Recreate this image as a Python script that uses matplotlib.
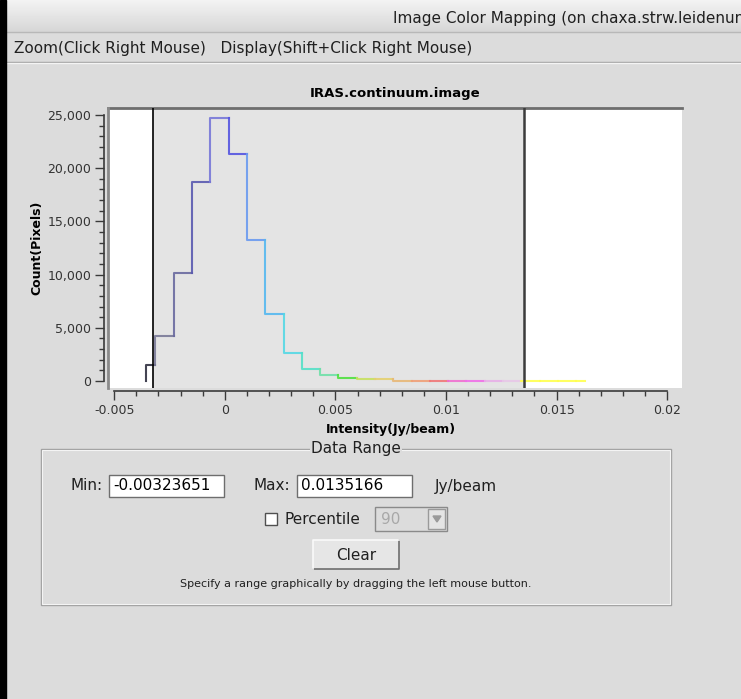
import numpy as np
import matplotlib.pyplot as plt
from matplotlib.patches import Rectangle, Polygon
from matplotlib.ticker import MultipleLocator, FuncFormatter

# histogram of the image: bin centres (Jy/beam) and pixel counts
bin_centers = [-0.003546, -0.002722, -0.001893, -0.001064, -0.000240, 0.000589,
               0.001413, 0.002242, 0.003071, 0.003895, 0.004724, 0.005548,
               0.006377, 0.007206, 0.008030, 0.008859, 0.009683, 0.010512,
               0.011341, 0.012165, 0.012994, 0.013818, 0.014647, 0.015476, 0.016304]
counts = [1530, 4230, 10150, 18700, 24750, 21300, 13220, 6330, 2630, 1100, 535, 254,
          160, 160, 40, 35, 30, 28, 26, 25, 24, 22, 20, 20, 18]
bin_colors = ['#303040', '#7a7a98', '#6a6aa0', '#5a5ab0', '#7878d8', '#5555e0',
              '#6a9af0', '#55b8f0', '#55d8e4', '#55e0c8', '#70e0a8', '#50e040',
              '#c8e060', '#e4d070', '#e8b878', '#f0a078', '#f07878', '#f070d0',
              '#f070e8', '#e8b0e8', '#e8c8e8', '#ffff50', '#ffff50', '#ffff50', '#ffff50']

data_min = -0.00323651
data_max = 0.0135166
x_ticks = [-0.005, 0, 0.005, 0.01, 0.015, 0.02]
x_tick_labels = ['-0.005', '0', '0.005', '0.01', '0.015', '0.02']
y_ticks = [0, 5000, 10000, 15000, 20000, 25000]

W, H = 741, 699
BG = '#dcdcdc'
UI = 11
fig = plt.figure(figsize=(W / 100, H / 100), dpi=100, facecolor=BG)

# window decoration drawn in pixel coordinates
bg = fig.add_axes([0, 0, 1, 1], zorder=0)
bg.set_xlim(0, W)
bg.set_ylim(H, 0)
bg.axis('off')

grad = np.linspace(0.95, 0.84, 32).reshape(-1, 1)
bg.imshow(grad, cmap='gray', vmin=0, vmax=1, extent=(0, W, 32, 0), aspect='auto')
bg.plot([0, W], [32, 32], color='#b8b8b8', lw=1)
bg.text(393, 18, 'Image Color Mapping (on chaxa.strw.leidenun', fontsize=UI,
        color='#202020', va='center', ha='left')
bg.text(14, 48, 'Zoom(Click Right Mouse)   Display(Shift+Click Right Mouse)',
        fontsize=UI, color='#202020', va='center', ha='left')
bg.plot([0, W], [61.5, 61.5], color='#a0a0a0', lw=1)
bg.plot([0, W], [62.5, 62.5], color='#f4f4f4', lw=1)
bg.add_patch(Rectangle((0, 0), 6, H, color='black', zorder=10))

# Data Range group box
bg.add_patch(Rectangle((41, 449), 630, 156, fill=False, edgecolor='#a0a0a0', lw=1))
bg.add_patch(Rectangle((42, 450), 628, 154, fill=False, edgecolor='#f4f4f4', lw=0.8))
bg.text(356, 448, 'Data Range', fontsize=UI, color='#202020', ha='center', va='center',
        bbox=dict(facecolor=BG, edgecolor='none', pad=1))


def entry(x0, x1, y0, y1, txt):
    bg.add_patch(Rectangle((x0, y0), x1 - x0, y1 - y0, facecolor='white',
                           edgecolor='#6e6e6e', lw=1))
    bg.text(x0 + 4, (y0 + y1) / 2, txt, fontsize=UI, color='black', va='center')


bg.text(103, 486, 'Min:', fontsize=UI, color='#202020', ha='right', va='center')
entry(109, 224, 475, 497, '-0.00323651')
bg.text(290, 486, 'Max:', fontsize=UI, color='#202020', ha='right', va='center')
entry(297, 412, 475, 497, '0.0135166')
bg.text(435, 486, 'Jy/beam', fontsize=UI, color='#202020', ha='left', va='center')

bg.add_patch(Rectangle((265, 513), 12, 12, facecolor='white', edgecolor='#505050', lw=1))
bg.text(285, 519, 'Percentile', fontsize=UI, color='#202020', ha='left', va='center')
bg.add_patch(Rectangle((375, 507), 72, 24, facecolor=BG, edgecolor='#8a8a8a', lw=1))
bg.text(381, 519, '90', fontsize=UI, color='#a8a8a8', ha='left', va='center')
bg.add_patch(Rectangle((428, 509), 17, 20, facecolor='#e4e4e4', edgecolor='#9a9a9a', lw=1))
bg.add_patch(Polygon([(433, 516), (441, 516), (437, 522)], color='#9a9a9a'))

bg.add_patch(Rectangle((313, 540), 86, 29, facecolor='#e6e6e6', edgecolor='none'))
bg.plot([313, 399, 399], [569, 569, 540], color='#6e6e6e', lw=1.2)
bg.plot([313, 313, 399], [569, 540, 540], color='#fafafa', lw=1.2)
bg.text(356, 555, 'Clear', fontsize=UI, color='#202020', ha='center', va='center')
bg.text(356, 584, 'Specify a range graphically by dragging the left mouse button.',
        fontsize=8, color='#202020', ha='center', va='center')

# histogram plot
ax = fig.add_axes([108 / W, 1 - 387.7 / H, 573.7 / W, 279.4 / H], zorder=1)
ax.set_facecolor('white')
ax.set_xlim(-0.00528, 0.020656)
ax.set_ylim(-630, 25630)
ax.axvspan(data_min, data_max, color='#e4e4e4', zorder=0)

c = np.array(bin_centers)
edges = np.concatenate([[c[0]], (c[:-1] + c[1:]) / 2, [c[-1]]])
prev = 0
for i, n in enumerate(counts):
    ax.plot([edges[i], edges[i], edges[i + 1]], [prev, n, n], color=bin_colors[i],
            lw=1.5, alpha=0.9, zorder=2)
    prev = n

ax.axvline(data_min, color='black', lw=1.2, zorder=3)
ax.axvline(data_max, color='#3c3c3c', lw=1.8, zorder=3)

# sunken frame
ax.plot([0, 1], [1, 1], transform=ax.transAxes, color='#6e6e6e', lw=2, clip_on=False)
ax.plot([0, 0], [0, 1], transform=ax.transAxes, color='#8a8a8a', lw=2, clip_on=False)
ax.spines['top'].set_visible(False)
ax.spines['right'].set_visible(False)
ax.spines['left'].set_position(('outward', 3))
ax.spines['bottom'].set_position(('outward', 2.5))
ax.spines['left'].set_bounds(0, 25000)
ax.spines['bottom'].set_bounds(-0.005, 0.02)
for s in ('left', 'bottom'):
    ax.spines[s].set_color('#3a3a3a')
    ax.spines[s].set_linewidth(1.2)

ax.set_xticks(x_ticks)
ax.set_xticklabels(x_tick_labels)
ax.set_yticks(y_ticks)
ax.yaxis.set_major_formatter(FuncFormatter(lambda v, p: f'{v:,.0f}'))
ax.xaxis.set_minor_locator(MultipleLocator(0.001))
ax.yaxis.set_minor_locator(MultipleLocator(1000))
ax.tick_params(which='major', length=6.2, width=1, color='#3a3a3a',
               labelsize=9, labelcolor='#333333', pad=3)
ax.tick_params(which='minor', length=3.3, width=1, color='#3a3a3a')

ax.set_title('IRAS.continuum.image', fontsize=9.5, fontweight='bold', pad=8)
ax.set_xlabel('Intensity(Jy/beam)', fontsize=9, fontweight='bold')
ax.set_ylabel('Count(Pixels)', fontsize=9, fontweight='bold')
ax.xaxis.set_label_coords(0.4924, -0.125)
ax.yaxis.set_label_coords(-0.113, 0.5)

fig.savefig('out.png', dpi=100, facecolor=BG)
